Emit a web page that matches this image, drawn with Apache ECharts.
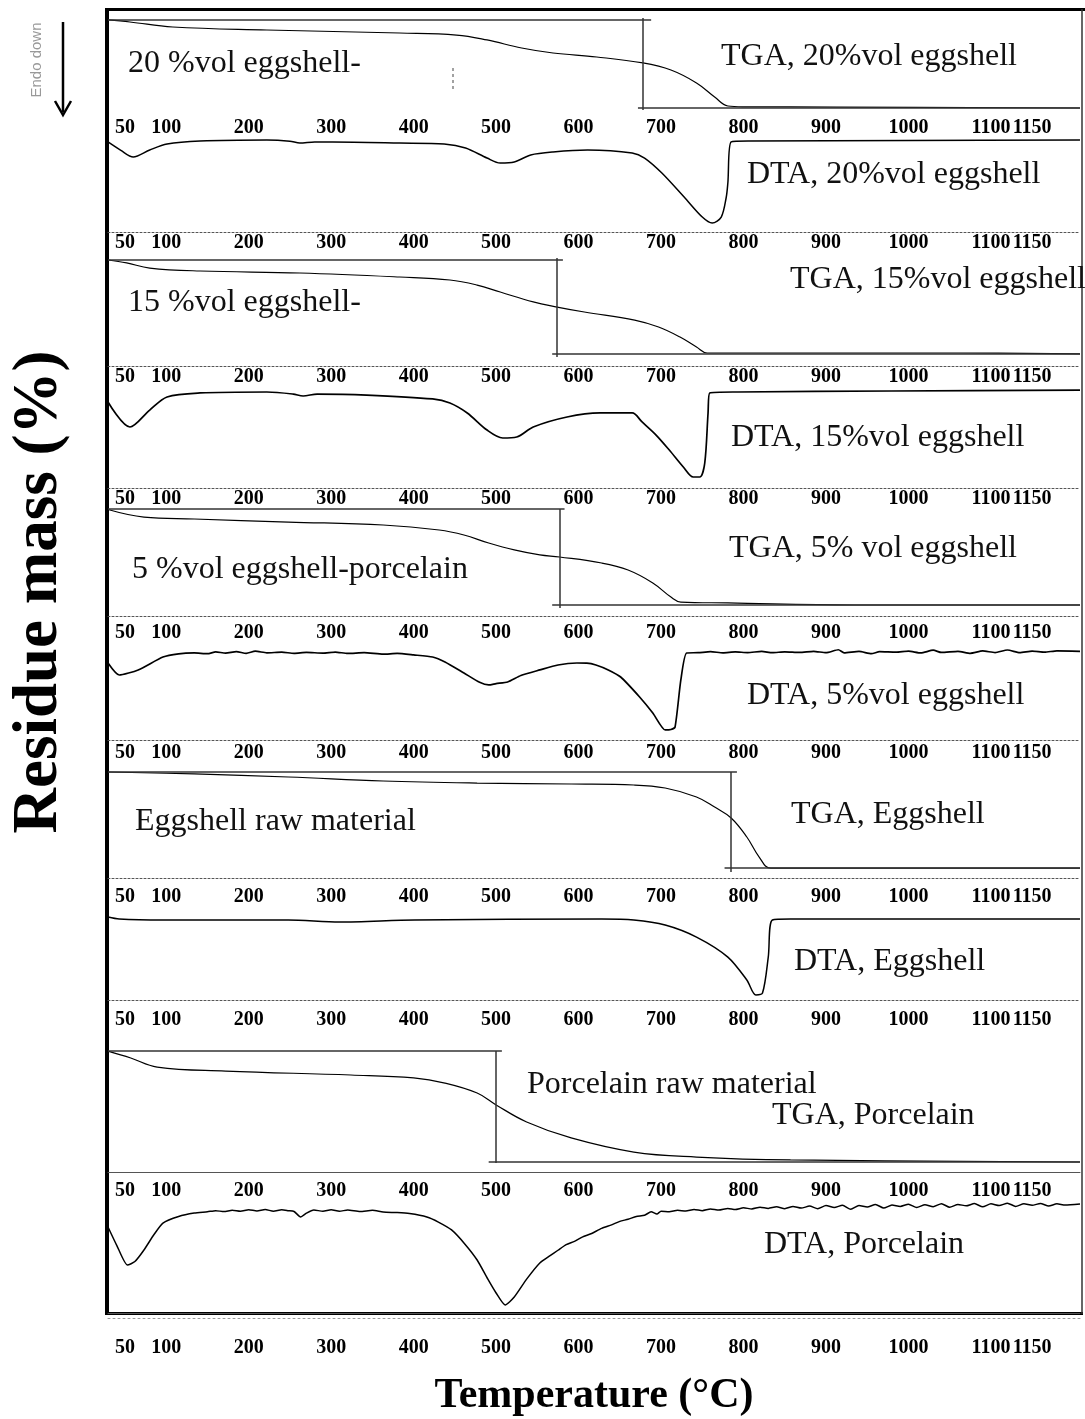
<!DOCTYPE html>
<html>
<head>
<meta charset="utf-8">
<title>TGA / DTA eggshell-porcelain</title>
<script src="https://cdn.jsdelivr.net/npm/echarts@6/dist/echarts.min.js"></script>
<style>
  html, body { margin: 0; padding: 0; background: #fff; }
  #chart { width: 1085px; height: 1419px; }
</style>
</head>
<body>
<div id="chart"></div>
<script>
// temperature labels repeated on every strip
const tempTicks = [50, 100, 200, 300, 400, 500, 600, 700, 800, 900, 1000, 1100, 1150]

// curves: [temperature °C, height inside its strip, 0 = strip bottom, 100 = strip top]
const tga20 = [[29.4, 90.7], [56, 88.8], [108, 84.1], [222, 81.3], [383, 78.5], [452, 76.6], [489, 72.0], [531, 64.5], [569, 59.8], [622, 56.1], [678, 50.5], [712, 43.9], [743, 31.8], [765, 18.7], [781, 10.3], [800, 9.5], [913, 9.3], [1208, 8.4]]
const dta20 = [[29.4, 78.3], [45, 71], [60, 65.2], [80, 71.3], [101, 76.5], [141, 79.1], [222, 80.0], [250, 79.0], [262, 77.4], [280, 78.3], [302, 78.3], [383, 77.4], [437, 76.5], [463, 73.0], [489, 64.3], [505, 60.0], [522, 60.9], [542, 67.0], [569, 69.6], [611, 71.3], [665, 68.7], [680, 64.3], [701, 51.3], [728, 30.4], [750, 13.0], [762, 7.8], [773, 13.0], [779, 30], [781, 42.6], [785, 78.3], [808, 79.1], [1000, 79.5], [1208, 80.0]]
const tga15 = [[29.4, 79.1], [52, 76.9], [80, 73.1], [141, 70.9], [262, 69.4], [383, 66.4], [444, 64.2], [477, 60.4], [505, 55.2], [545, 47.8], [574, 44.0], [607, 40.3], [668, 34.3], [697, 29.1], [723, 21.6], [743, 14.2], [756, 9.7], [1061, 9.7], [1208, 9.0]]
const dta15 = [[29.4, 70.5], [56, 50.0], [80, 63.9], [101, 74.6], [141, 77.9], [222, 78.7], [254, 77.0], [266, 75.4], [283, 77.0], [343, 76.2], [423, 73.0], [444, 69.7], [465, 61.5], [489, 47.5], [508, 41.0], [525, 41.8], [545, 50.0], [586, 58.2], [626, 61.5], [665, 61.5], [677, 54.1], [694, 43.4], [710, 31.1], [727, 17.2], [739, 9.0], [747, 9.0], [753, 20.5], [757, 61.5], [759, 77.9], [793, 78.7], [979, 79.5], [1208, 80.3]]
const tga5 = [[29.4, 83.2], [73, 77.3], [134, 75.8], [248, 73.4], [363, 71.1], [431, 67.2], [461, 63.3], [491, 57.0], [522, 51.6], [553, 47.7], [577, 46.1], [628, 41.4], [660, 35.9], [690, 25.8], [712, 14.8], [724, 10.9], [781, 10.2], [934, 8.6], [1208, 8.6]]
const dta5 = [[29.4, 62.1], [43, 52.4], [66, 56.5], [96, 66.9], [115, 69.5], [134, 70.2], [150, 69.6], [160, 71.0], [172, 70.1], [185, 71.3], [197, 69.9], [208, 71.6], [222, 70.3], [240, 70.8], [255, 69.9], [270, 70.6], [290, 70.1], [305, 70.9], [320, 69.8], [340, 70.4], [363, 69.2], [380, 69.8], [400, 68.6], [423, 66.9], [438, 62.9], [461, 54.0], [480, 46.5], [491, 44.4], [500, 45.5], [514, 46.8], [530, 52.0], [553, 56.5], [575, 60.5], [598, 62.1], [610, 62.0], [621, 60.5], [636, 56.5], [651, 50.8], [674, 34.7], [690, 21.8], [705, 8.1], [712, 8.5], [717, 10.5], [724, 48.4], [731, 70.2], [745, 70.4], [760, 71.2], [775, 70.3], [790, 71.0], [805, 70.5], [822, 71.4], [835, 70.4], [850, 71.1], [868, 70.6], [885, 71.5], [900, 70.4], [915, 72.8], [922, 70.3], [940, 71.4], [955, 69.6], [965, 71.2], [985, 70.8], [1000, 71.6], [1015, 70.2], [1030, 72.4], [1040, 70.6], [1060, 71.5], [1075, 69.9], [1090, 71.8], [1105, 70.5], [1120, 72.6], [1135, 70.4], [1150, 71.6], [1165, 70.8], [1180, 71.9], [1208, 71.5]]
const tgaEgg = [[29.4, 76.8], [134, 75.4], [248, 73.2], [363, 70.3], [477, 68.8], [591, 68.1], [667, 67.4], [705, 65.2], [743, 58.7], [765, 51.4], [785, 43.5], [804, 29.7], [819, 15.2], [833, 7.2], [1208, 7.2]]
const dtaEgg = [[29.4, 68.0], [43, 66.4], [96, 65.6], [248, 65.6], [310, 63.9], [401, 65.6], [628, 66.4], [667, 65.6], [705, 61.5], [743, 51.6], [781, 35.2], [804, 16.4], [815, 4.1], [823, 5.7], [830, 35.2], [835, 65.6], [857, 66.4], [1208, 66.4]]
const tgaPor = [[29.4, 70.3], [57, 66.3], [89, 61.0], [172, 58.7], [324, 56.4], [400, 54.7], [438, 51.7], [477, 45.9], [500, 39.0], [537, 29.1], [591, 19.8], [667, 11.6], [743, 8.7], [857, 7.0], [1208, 5.8]]
const dtaPor = [[29.4, 61.0], [40, 48], [53, 34.0], [62, 36.5], [73, 44.7], [85, 55.5], [96, 63.8], [115, 68.5], [134, 70.9], [150, 71.8], [160, 72.6], [170, 71.9], [180, 72.9], [190, 72.2], [200, 73.3], [210, 72.4], [220, 73.4], [230, 72.2], [240, 73.2], [248, 72.6], [255, 72.0], [263, 68.1], [270, 70.8], [279, 73.0], [290, 72.2], [300, 73.2], [310, 72.2], [320, 73.0], [335, 71.9], [350, 72.8], [363, 71.6], [380, 71.2], [395, 70.5], [416, 68.1], [430, 64.5], [446, 58.9], [462, 49.0], [477, 37.6], [490, 24.0], [500, 14.2], [511, 5.7], [522, 11.3], [537, 24.0], [553, 35.5], [565, 40.5], [575, 44.5], [585, 48.5], [595, 50.8], [605, 54.0], [615, 56.2], [628, 60.0], [640, 62.5], [650, 65.0], [660, 66.5], [670, 68.5], [680, 69.3], [688, 71.8], [695, 70.2], [700, 72.2], [710, 71.8], [720, 72.9], [730, 72.3], [740, 73.4], [750, 72.6], [760, 73.8], [770, 73.0], [781, 74.2], [790, 73.4], [800, 74.6], [810, 73.8], [820, 75.0], [830, 74.2], [840, 75.3], [850, 74.0], [860, 75.6], [870, 74.4], [880, 75.8], [890, 74.0], [900, 76.2], [910, 74.8], [920, 76.4], [930, 73.6], [940, 76.3], [950, 75.2], [960, 77.0], [970, 74.4], [980, 76.6], [990, 75.6], [1000, 77.2], [1010, 74.8], [1020, 76.8], [1030, 75.4], [1040, 77.5], [1050, 75.0], [1060, 77.0], [1070, 76.0], [1080, 77.6], [1090, 75.3], [1100, 77.4], [1110, 76.2], [1120, 77.9], [1130, 75.6], [1140, 77.5], [1150, 76.4], [1160, 77.7], [1170, 75.9], [1180, 77.4], [1190, 76.6], [1208, 77.3]]

// TGA construction lines: [T1, h1, T2, h2] (start level, step, final level)
const tga20Guide = [[29.4, 90.7, 688, 90.7], [678, 92.5, 678, 6.5], [672, 8.4, 1208, 8.4]]
const tga15Guide = [[29.4, 79.1, 581, 79.1], [574, 80.6, 574, 6.7], [568, 9.0, 1208, 9.0]]
const tga5Guide = [[29.4, 83.6, 583, 83.6], [577, 83.6, 577, 6.3], [568, 8.6, 1208, 8.6]]
const tgaEggGuide = [[29.4, 76.8, 792, 76.8], [785, 76.8, 785, 4.3], [777, 7.2, 1208, 7.2]]
const tgaPorGuide = [[29.4, 70.3, 507, 70.3], [500, 70.3, 500, 5.2], [491, 5.8, 1208, 5.8]]

const stripTitles = ['TGA, 20%vol eggshell', 'DTA, 20%vol eggshell', 'TGA, 15%vol eggshell', 'DTA, 15%vol eggshell',
  'TGA, 5% vol eggshell', 'DTA, 5%vol eggshell', 'TGA, Eggshell', 'DTA, Eggshell', 'TGA, Porcelain', 'DTA, Porcelain']
const sampleTitles = ['20 %vol eggshell-', '15 %vol eggshell-', '5 %vol eggshell-porcelain', 'Eggshell raw material', 'Porcelain raw material']

const SERIF = '"Liberation Serif", "Times New Roman", serif'
const T_MIN = 29.4
const T_MAX = 1208

// strip edges in px (top border ... bottom border)
const edges = [10, 117, 232, 366, 488, 616, 740, 878, 1000, 1172, 1313]
const labelGap = [0, 1, 1, 1, 1, 7, 3, 9, 10, 9]

const chart = echarts.init(document.getElementById('chart'))

const tickLabel = {
  customValues: tempTicks,
  formatter: v => String(v),
  hideOverlap: false,
  showMinLabel: true,
  showMaxLabel: true,
  fontFamily: SERIF,
  fontWeight: 'bold',
  fontSize: 20,
  color: '#000'
}

const grids = []
const xAxes = []
const yAxes = []
for (let i = 0; i < 10; i++) {
  grids.push({left: 108, right: 5, top: edges[i], height: edges[i + 1] - edges[i], containLabel: false})
  xAxes.push({
    gridIndex: i,
    type: 'value',
    min: T_MIN,
    max: T_MAX,
    position: 'top',
    axisLine: {show: i > 0, lineStyle: {color: '#555', width: 1, type: i >= 8 ? 'solid' : [2, 2]}},
    axisTick: {show: false},
    splitLine: {show: false},
    axisLabel: Object.assign({show: i > 0, inside: true, margin: labelGap[i]}, tickLabel)
  })
  yAxes.push({gridIndex: i, type: 'value', min: 0, max: 100, show: false})
}
// bottom temperature axis below the frame
xAxes.push({
  gridIndex: 9,
  type: 'value',
  min: T_MIN,
  max: T_MAX,
  position: 'bottom',
  offset: 5,
  axisLine: {show: true, lineStyle: {color: '#999', width: 1, type: [2, 3]}},
  axisTick: {show: false},
  splitLine: {show: false},
  axisLabel: Object.assign({margin: 20}, tickLabel),
  name: 'Temperature (°C)',
  nameLocation: 'middle',
  nameGap: 57,
  nameTextStyle: {fontFamily: SERIF, fontWeight: 'bold', fontSize: 42, color: '#000'}
})

function guideLines(guide) {
  return {
    symbol: 'none',
    silent: true,
    label: {show: false},
    lineStyle: {color: '#333', width: 1.5, type: 'solid'},
    data: guide.map(s => [{coord: [s[0], s[1]]}, {coord: [s[2], s[3]]}])
  }
}

const curves = [
  {data: tga20, guide: tga20Guide, w: 1.2, smooth: 0.4},
  {data: dta20, w: 1.5, smooth: 0.3},
  {data: tga15, guide: tga15Guide, w: 1.2, smooth: 0.4},
  {data: dta15, w: 1.7, smooth: 0.3},
  {data: tga5, guide: tga5Guide, w: 1.2, smooth: 0.4},
  {data: dta5, w: 1.7, smooth: 0.2},
  {data: tgaEgg, guide: tgaEggGuide, w: 1.2, smooth: 0.4},
  {data: dtaEgg, w: 1.5, smooth: 0.3},
  {data: tgaPor, guide: tgaPorGuide, w: 1.2, smooth: 0.4},
  {data: dtaPor, w: 1.5, smooth: 0.2}
]

const series = curves.map((c, i) => ({
  name: stripTitles[i],
  type: 'line',
  xAxisIndex: i,
  yAxisIndex: i,
  data: c.data,
  showSymbol: false,
  smooth: c.smooth,
  lineStyle: {color: '#000', width: c.w},
  markLine: c.guide ? guideLines(c.guide) : undefined
}))

// annotation positions [x, y] in px
const stripTitlePos = [[721, 57], [747, 175], [790, 280], [731, 438], [729, 549], [747, 696], [791, 815], [794, 962], [772, 1116], [764, 1245]]
const sampleTitlePos = [[128, 64], [128, 303], [132, 570], [135, 822], [527, 1085]]

function annot(text, pos) {
  return {
    type: 'text', x: pos[0], y: pos[1], silent: true,
    style: {text: text, fill: '#111', font: '32px ' + SERIF, align: 'left', verticalAlign: 'middle'}
  }
}

const graphics = [
  // frame
  {type: 'line', silent: true, shape: {x1: 107, y1: 8, x2: 107, y2: 1315}, style: {stroke: '#000', lineWidth: 4}},
  {type: 'line', silent: true, shape: {x1: 105, y1: 9.5, x2: 1085, y2: 9.5}, style: {stroke: '#000', lineWidth: 3}},
  {type: 'line', silent: true, shape: {x1: 105, y1: 1313.5, x2: 1083, y2: 1313.5}, style: {stroke: '#000', lineWidth: 3}},
  {type: 'line', silent: true, shape: {x1: 1082, y1: 9, x2: 1082, y2: 1314}, style: {stroke: '#333', lineWidth: 1.5}},
  // small dashed mark in the first strip
  {type: 'line', silent: true, shape: {x1: 453, y1: 68, x2: 453, y2: 90}, style: {stroke: '#444', lineWidth: 1, lineDash: [3, 3]}},
  // endo arrow
  {type: 'line', silent: true, shape: {x1: 63, y1: 22, x2: 63, y2: 112}, style: {stroke: '#000', lineWidth: 2.5}},
  {type: 'polyline', silent: true, shape: {points: [[55, 101], [63, 115], [71, 101]]}, style: {stroke: '#000', lineWidth: 2.5, fill: null}},
  {
    type: 'text', x: 37, y: 60, rotation: Math.PI / 2, silent: true,
    style: {text: 'Endo down', fill: '#999', font: '15px "Liberation Sans", Arial, sans-serif', align: 'center', verticalAlign: 'middle'}
  },
  {
    type: 'text', x: 40, y: 592, rotation: Math.PI / 2, silent: true,
    style: {text: 'Residue mass (%)', fill: '#000', font: 'bold 63px ' + SERIF, align: 'center', verticalAlign: 'middle'}
  }
]
stripTitles.forEach((t, i) => graphics.push(annot(t, stripTitlePos[i])))
sampleTitles.forEach((t, i) => graphics.push(annot(t, sampleTitlePos[i])))

chart.setOption({
  animation: false,
  backgroundColor: '#fff',
  grid: grids,
  xAxis: xAxes,
  yAxis: yAxes,
  series: series,
  graphic: graphics
})
</script>
</body>
</html>
